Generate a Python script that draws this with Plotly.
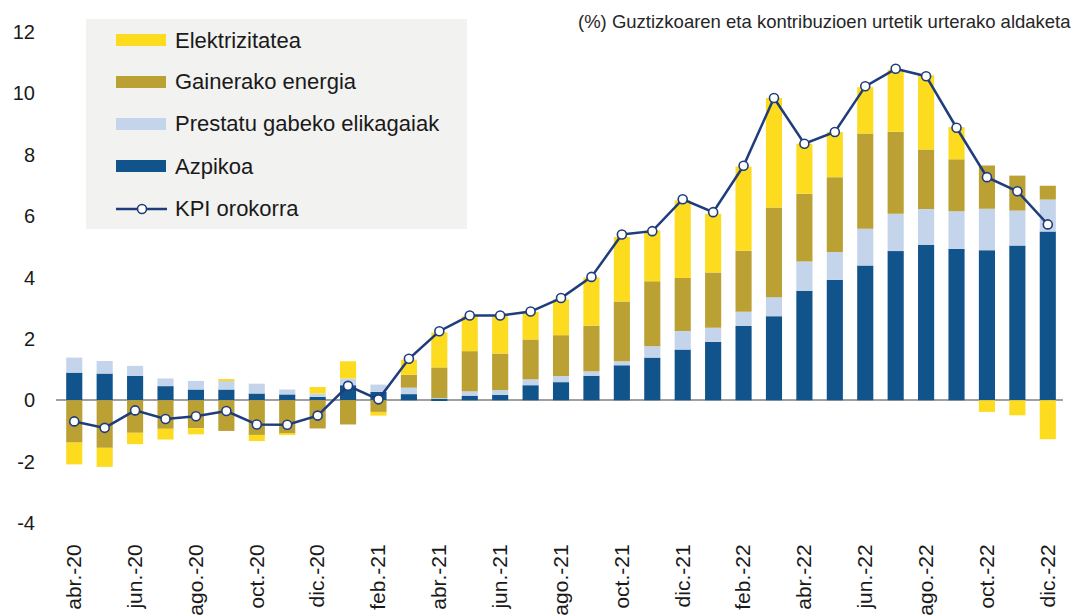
import plotly.graph_objects as go

# Months shown on the category axis
months = [
    "abr.-20", "may.-20", "jun.-20", "jul.-20", "ago.-20", "sep.-20", "oct.-20", "nov.-20",
    "dic.-20", "ene.-21", "feb.-21", "mar.-21", "abr.-21", "may.-21", "jun.-21", "jul.-21",
    "ago.-21", "sep.-21", "oct.-21", "nov.-21", "dic.-21", "ene.-22", "feb.-22", "mar.-22",
    "abr.-22", "may.-22", "jun.-22", "jul.-22", "ago.-22", "sep.-22", "oct.-22", "nov.-22",
    "dic.-22",
]
tick_labels = months[::2]
y_ticks = [-4, -2, 0, 2, 4, 6, 8, 10, 12]
y_tick_text = ["-4", "-2", "0", "2", "4", "6", "8", "10", "12"]

# Contributions (percentage points)
azpikoa = [0.90, 0.87, 0.79, 0.46, 0.35, 0.35, 0.22, 0.19, 0.11, 0.49, 0.27, 0.20, 0.05,
           0.15, 0.17, 0.49, 0.59, 0.80, 1.14, 1.39, 1.65, 1.90, 2.42, 2.74, 3.57, 3.92,
           4.39, 4.86, 5.07, 4.93, 4.89, 5.04, 5.50]
elikagaiak = [0.49, 0.41, 0.33, 0.25, 0.28, 0.30, 0.32, 0.16, 0.11, 0.22, 0.24, 0.21, 0.02,
              0.14, 0.16, 0.19, 0.20, 0.14, 0.13, 0.37, 0.61, 0.46, 0.46, 0.62, 0.95, 0.91,
              1.20, 1.22, 1.16, 1.23, 1.35, 1.14, 1.04]
energia = [-1.38, -1.55, -1.06, -0.93, -0.91, -1.00, -1.13, -1.09, -0.92, -0.79, -0.38, 0.42,
           1.00, 1.31, 1.19, 1.30, 1.33, 1.49, 1.95, 2.12, 1.72, 1.80, 1.99, 2.92, 2.21, 2.44,
           3.10, 2.67, 1.94, 1.69, 1.41, 1.14, 0.45]
elektrizitatea = [-0.71, -0.62, -0.37, -0.35, -0.20, 0.04, -0.20, -0.04, 0.21, 0.56, -0.12,
                  0.49, 1.14, 1.14, 1.22, 0.90, 1.17, 1.57, 2.10, 1.65, 2.53, 1.92, 2.75, 3.57,
                  1.63, 1.47, 1.51, 2.02, 2.42, 1.05, -0.38, -0.49, -1.27]
# Headline CPI, year-on-year rate (%)
kpi = [-0.69, -0.90, -0.33, -0.61, -0.52, -0.35, -0.79, -0.80, -0.50, 0.47, 0.03, 1.35, 2.25,
       2.76, 2.76, 2.89, 3.33, 4.02, 5.40, 5.51, 6.55, 6.13, 7.64, 9.85, 8.36, 8.74, 10.23,
       10.80, 10.56, 8.88, 7.27, 6.81, 5.73]

C_ELEK = "#fddb1f"
C_ENER = "#bba034"
C_ELIK = "#c4d5eb"
C_AZPI = "#10548b"
C_KPI = "#1f3d7c"
FONT = "Liberation Sans, Arial, sans-serif"

fig = go.Figure()
for name, vals, col in [
    ("Azpikoa", azpikoa, C_AZPI),
    ("Prestatu gabeko elikagaiak", elikagaiak, C_ELIK),
    ("Gainerako energia", energia, C_ENER),
    ("Elektrizitatea", elektrizitatea, C_ELEK),
]:
    fig.add_trace(go.Bar(x=months, y=vals, name=name, marker=dict(color=col, line_width=0),
                         showlegend=False))

fig.add_trace(go.Scatter(
    x=months, y=kpi, name="KPI orokorra", mode="lines+markers",
    line=dict(color=C_KPI, width=2.5),
    marker=dict(symbol="circle", size=9, color="white", line=dict(color=C_KPI, width=1.6)),
    showlegend=False,
))

# Plot-area geometry in pixels, used to place the hand-built legend
W, H = 1078, 616
L, R, T, B = 56, 15, 32, 93
PW, PH = W - L - R, H - T - B


def px(x):
    return (x - L) / PW


def py(y):
    return (H - B - y) / PH


shapes = [
    dict(type="rect", xref="paper", yref="paper", x0=px(86), x1=px(467), y0=py(229), y1=py(19),
         fillcolor="#f2f2f1", line_width=0, layer="below"),
]
annotations = []
legend_items = [
    ("Elektrizitatea", C_ELEK, 40),
    ("Gainerako energia", C_ENER, 82),
    ("Prestatu gabeko elikagaiak", C_ELIK, 124),
    ("Azpikoa", C_AZPI, 166),
]
for label, col, yc in legend_items:
    shapes.append(dict(type="rect", xref="paper", yref="paper", x0=px(116), x1=px(166),
                       y0=py(yc + 6), y1=py(yc - 6), fillcolor=col, line_width=0))
    annotations.append(dict(text=label, xref="paper", yref="paper", x=px(173), y=py(yc),
                            xanchor="left", yanchor="middle", showarrow=False,
                            font=dict(family=FONT, size=22, color="#1a1a1a")))
yk = 209
shapes.append(dict(type="line", xref="paper", yref="paper", x0=px(116), x1=px(167),
                   y0=py(yk), y1=py(yk), line=dict(color=C_KPI, width=2.5)))
shapes.append(dict(type="circle", xref="paper", yref="paper", x0=px(137.5), x1=px(146.5),
                   y0=py(yk + 4.5), y1=py(yk - 4.5), fillcolor="white",
                   line=dict(color=C_KPI, width=1.6)))
annotations.append(dict(text="KPI orokorra", xref="paper", yref="paper", x=px(173), y=py(yk),
                        xanchor="left", yanchor="middle", showarrow=False,
                        font=dict(family=FONT, size=22, color="#1a1a1a")))

annotations.append(dict(text="(%) Guztizkoaren eta kontribuzioen urtetik urterako aldaketa",
                        xref="paper", yref="paper", x=px(1073), y=py(22),
                        xanchor="right", yanchor="middle", showarrow=False,
                        font=dict(family=FONT, size=18.5, color="#262626")))

fig.update_layout(
    width=W, height=H,
    margin=dict(l=L, r=R, t=T, b=B, autoexpand=False),
    barmode="relative", bargap=0.47,
    plot_bgcolor="white", paper_bgcolor="white",
    font=dict(family=FONT, color="#1a1a1a"),
    shapes=shapes, annotations=annotations,
    showlegend=False,
)
fig.update_xaxes(
    type="category", range=[-0.6, 32.5],
    tickmode="array", tickvals=tick_labels, ticktext=tick_labels,
    tickangle=-90, tickfont=dict(size=21, family=FONT, color="#1a1a1a"),
    showgrid=False, showline=False, zeroline=False,
    ticks="outside", ticklen=12, tickcolor="rgba(0,0,0,0)",
)
fig.update_yaxes(
    range=[-4, 12], tickmode="array", tickvals=y_ticks, ticktext=y_tick_text,
    tickfont=dict(size=20, family=FONT, color="#1a1a1a"),
    showgrid=False, showline=False,
    zeroline=True, zerolinecolor="#a0a0a0", zerolinewidth=1.5,
    ticks="outside", ticklen=16, tickcolor="rgba(0,0,0,0)",
)

fig.write_html("out.html")
